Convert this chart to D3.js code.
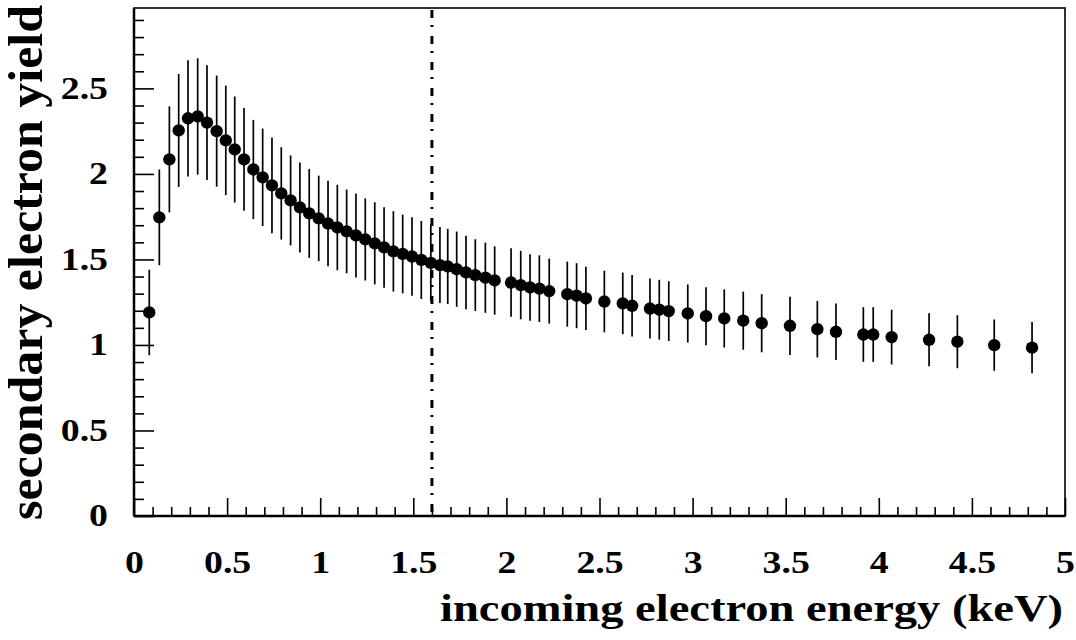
<!DOCTYPE html>
<html>
<head>
<meta charset="utf-8">
<script src="https://cdn.jsdelivr.net/npm/d3@7/dist/d3.min.js"></script>
<style>
  body { margin: 0; background: #fff; }
  text { font-family: "Liberation Serif", "Times New Roman", serif; font-weight: bold; fill: #000; }
</style>
</head>
<body>
<script>
// measured points: energy (keV), yield, error half-length
var energy = [0.082, 0.136, 0.19, 0.24, 0.29, 0.342, 0.392, 0.444, 0.493, 0.541,
              0.591, 0.641, 0.691, 0.741, 0.791, 0.841, 0.891, 0.941, 0.992, 1.042,
              1.092, 1.142, 1.192, 1.242, 1.293, 1.343, 1.393, 1.443, 1.493, 1.543,
              1.594, 1.643, 1.685, 1.733, 1.783, 1.833, 1.887, 1.937, 2.025, 2.077,
              2.127, 2.177, 2.23, 2.327, 2.377, 2.427, 2.526, 2.625, 2.675, 2.771,
              2.821, 2.872, 2.974, 3.072, 3.17, 3.272, 3.371, 3.523, 3.67, 3.77,
              3.917, 3.97, 4.069, 4.27, 4.422, 4.62, 4.823];
var yieldVal = [1.19, 1.746, 2.085, 2.254, 2.325, 2.336, 2.30, 2.25, 2.196, 2.143,
                2.085, 2.026, 1.98, 1.933, 1.886, 1.845, 1.804, 1.769, 1.74, 1.71,
                1.687, 1.664, 1.64, 1.617, 1.594, 1.57, 1.547, 1.532, 1.517, 1.497,
                1.48, 1.467, 1.459, 1.443, 1.424, 1.408, 1.393, 1.377, 1.365, 1.35,
                1.336, 1.329, 1.315, 1.297, 1.288, 1.272, 1.254, 1.243, 1.229, 1.213,
                1.206, 1.198, 1.184, 1.168, 1.155, 1.142, 1.127, 1.112, 1.092, 1.077,
                1.061, 1.061, 1.046, 1.03, 1.019, 0.999, 0.984];
var yieldErr = [0.25, 0.28, 0.31, 0.33, 0.34, 0.34, 0.336, 0.325, 0.32, 0.31,
                0.30, 0.29, 0.285, 0.28, 0.27, 0.263, 0.263, 0.26, 0.25, 0.25,
                0.25, 0.245, 0.245, 0.24, 0.24, 0.235, 0.235, 0.23, 0.23, 0.228,
                0.225, 0.222, 0.22, 0.22, 0.215, 0.21, 0.205, 0.20, 0.20, 0.20,
                0.195, 0.195, 0.19, 0.19, 0.19, 0.185, 0.18, 0.18, 0.18, 0.175,
                0.175, 0.175, 0.17, 0.17, 0.17, 0.17, 0.17, 0.17, 0.165, 0.165,
                0.16, 0.16, 0.16, 0.155, 0.155, 0.15, 0.15];

var xMajor = [0, 0.5, 1, 1.5, 2, 2.5, 3, 3.5, 4, 4.5, 5];
var yMajor = [0, 0.5, 1, 1.5, 2, 2.5];
var cutEnergy = 1.6;

var width = 1076, height = 640;
var margin = {top: 8, right: 11, bottom: 124, left: 134};
var w = width - margin.left - margin.right,
    h = height - margin.top - margin.bottom;

var svg = d3.select("body").append("svg")
    .attr("width", width)
    .attr("height", height);

var g = svg.append("g")
    .attr("transform", "translate(" + margin.left + "," + margin.top + ")");

var x = d3.scaleLinear().domain([0, 5]).range([0, w]);
var y = d3.scaleLinear().domain([0, 2.97]).range([h, 0]);

var xMinor = d3.range(1, 50).map(function(i) { return i / 10; })
    .filter(function(v) { return Math.round(v * 10) % 5 != 0; });
var yMinor = d3.range(1, 30).map(function(i) { return i / 10; })
    .filter(function(v) { return Math.round(v * 10) % 5 != 0; });

// minor ticks, inward
g.append("g")
    .attr("transform", "translate(0," + h + ")")
    .call(d3.axisBottom(x).tickValues(xMinor).tickSize(-9).tickFormat(""));
g.append("g")
    .call(d3.axisLeft(y).tickValues(yMinor).tickSize(-10).tickFormat(""));

// major ticks + labels
var fmt = function(d) { return d3.format("")(d); };
var xAxis = g.append("g")
    .attr("transform", "translate(0," + h + ")")
    .call(d3.axisBottom(x).tickValues(xMajor).tickSize(-18).tickPadding(35).tickFormat(fmt));
var yAxis = g.append("g")
    .call(d3.axisLeft(y).tickValues(yMajor).tickSize(-20).tickPadding(26).tickFormat(fmt));

g.selectAll(".domain").remove();
g.selectAll(".tick line").attr("stroke", "#000").attr("stroke-width", 1.6);

// the original lettering is wider than the font, stretch it a bit
function widen(sel, k) {
  sel.each(function() {
    var len = this.getComputedTextLength();
    d3.select(this).attr("textLength", len * k).attr("lengthAdjust", "spacingAndGlyphs");
  });
}
xAxis.selectAll("text").attr("font-family", null).attr("font-size", null).style("font-size", "31px");
yAxis.selectAll("text").attr("font-family", null).attr("font-size", null).style("font-size", "31px");
widen(xAxis.selectAll("text"), 1.22);
widen(yAxis.selectAll("text"), 1.22);

// frame
g.append("rect")
    .attr("width", w).attr("height", h)
    .attr("fill", "none").attr("stroke", "#000").attr("stroke-width", 1.6);
g.append("line")
    .attr("x1", 0).attr("x2", w).attr("y1", h).attr("y2", h)
    .attr("stroke", "#000").attr("stroke-width", 2.5);
g.append("line")
    .attr("x1", 0).attr("x2", 0).attr("y1", 0).attr("y2", h)
    .attr("stroke", "#000").attr("stroke-width", 2.5);

// dash-dot line
g.append("line")
    .attr("x1", x(cutEnergy)).attr("x2", x(cutEnergy))
    .attr("y1", 2).attr("y2", h)
    .attr("stroke", "#000").attr("stroke-width", 3)
    .attr("stroke-dasharray", "8,7,2,9");

var data = energy.map(function(e, i) {
  return {e: e, v: yieldVal[i], err: yieldErr[i]};
});

// error bars
g.append("g").selectAll("line")
    .data(data)
  .enter().append("line")
    .attr("x1", function(d) { return x(d.e); })
    .attr("x2", function(d) { return x(d.e); })
    .attr("y1", function(d) { return y(d.v + d.err); })
    .attr("y2", function(d) { return y(Math.max(d.v - d.err, 0)); })
    .attr("stroke", "#000")
    .attr("stroke-width", 1.7);

// markers
g.append("g").selectAll("circle")
    .data(data)
  .enter().append("circle")
    .attr("cx", function(d) { return x(d.e); })
    .attr("cy", function(d) { return y(d.v); })
    .attr("r", 6.2)
    .attr("fill", "#000");

// axis titles
svg.append("text")
    .attr("x", 1063)
    .attr("y", 621)
    .attr("text-anchor", "end")
    .attr("textLength", 623)
    .attr("lengthAdjust", "spacingAndGlyphs")
    .style("font-size", "38px")
    .text("incoming electron energy (keV)");

svg.append("text")
    .attr("transform", "translate(42,520) rotate(-90)")
    .attr("text-anchor", "start")
    .attr("textLength", 515)
    .attr("lengthAdjust", "spacingAndGlyphs")
    .style("font-size", "48px")
    .text("secondary electron yield");
</script>
</body>
</html>
